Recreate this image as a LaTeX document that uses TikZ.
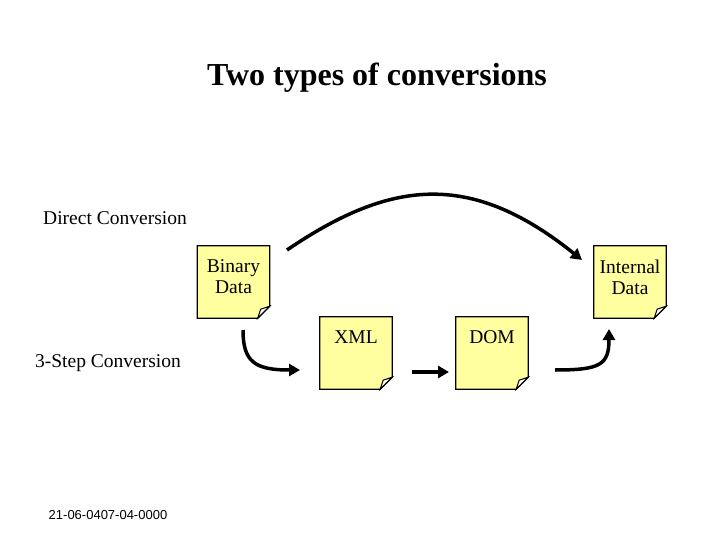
\documentclass[tikz,border=0pt]{standalone}
\usepackage{fontspec}
\setmainfont{Liberation Serif}
\newfontfamily\arialf{Liberation Sans}
\usetikzlibrary{arrows.meta}
\definecolor{noteY}{RGB}{255,255,160}
\tikzset{
  doc/.style={draw=none,minimum width=72pt,minimum height=72pt,inner sep=0pt},
  arr/.style={line width=3.5pt,-{Triangle[length=11pt,width=12pt]}},
  lbl/.style={font=\fontsize{19.5}{21}\selectfont}
}
\newcommand{\mydoc}[3]{%
  \node[doc] (#1) at (#2) {};
  \fill[noteY] (#1.north west) -- (#1.north east) -- ([yshift=12pt]#1.south east) -- ([xshift=-12pt]#1.south east) -- (#1.south west) -- cycle;
  \draw[line width=1.2pt] (#1.north west) -- (#1.north east) -- ([yshift=12pt]#1.south east) -- ([xshift=-12pt]#1.south east) -- (#1.south west) -- cycle;
  \draw[line width=1pt,fill=white] ([yshift=12pt]#1.south east) -- ([xshift=-12pt]#1.south east) -- ([xshift=-9pt,yshift=9pt]#1.south east) -- cycle;
  \node[lbl,align=center,anchor=north,inner sep=0pt] at ([yshift=-14pt]#1.north) {#3};
}
\begin{document}
\begin{tikzpicture}[x=1pt,y=-1pt]
\useasboundingbox (0,0) rectangle (720,540);
\node[font=\bfseries\fontsize{32}{34}\selectfont] (title) at (377,78) {Two types of conversions};
\node[lbl] (direct) at (115,218) {Direct Conversion};
\node[lbl] (three) at (108,363) {3-Step Conversion};
\node[font=\arialf\fontsize{13}{14}\selectfont] (foot) at (108,515) {21-06-0407-04-0000};
\mydoc{bin}{233.5,282}{Binary\\Data}
\mydoc{int}{630,282}{Internal\\Data}
\mydoc{xml}{356,353}{XML}
\mydoc{dom}{492,353}{DOM}
\coordinate (a1) at (287,250);
\coordinate (a2) at (582,260);
\draw[arr] (a1) .. controls (390,180) and (470,170) .. (a2);
\coordinate (b1) at (243,330);
\coordinate (b2) at (300,370);
\draw[arr] (b1) .. controls (243,362) and (255,370) .. (b2);
\draw[arr] (412,372) -- (449,372);
\coordinate (c1) at (555,370);
\coordinate (c2) at (609,329);
\draw[arr] (c1) .. controls (600,370) and (609,365) .. (c2);
\end{tikzpicture}
\end{document}
